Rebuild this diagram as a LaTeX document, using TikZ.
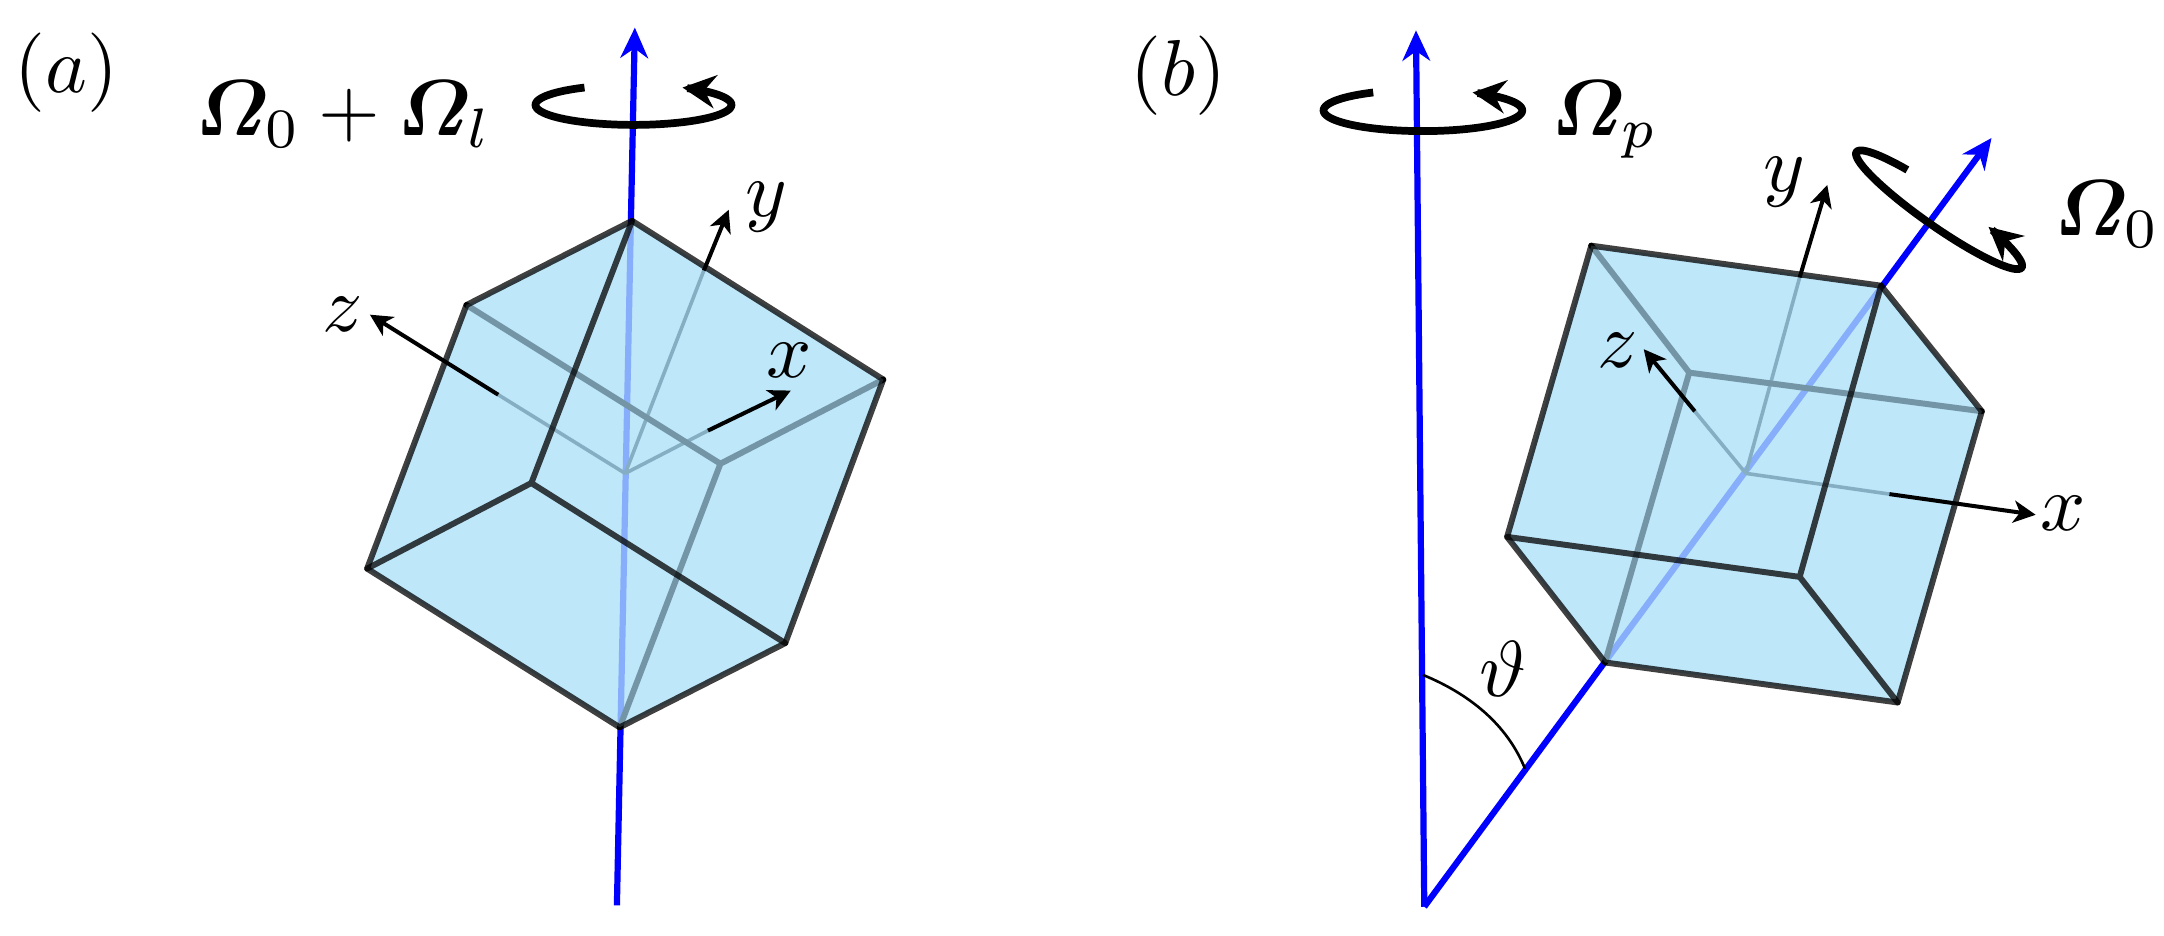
\documentclass[tikz,border=0pt]{standalone}
\usepackage{amsmath,bm}
\usetikzlibrary{arrows.meta}
\definecolor{cubefill}{HTML}{ACE0F9}
\tikzset{
  front/.style={draw=black,draw opacity=.75,line width=4.3pt,line join=round,line cap=round},
  back/.style={draw=black,line width=4.3pt,line join=round,line cap=round},
  back shade/.style={draw=black,draw opacity=.14,line width=4.3pt,line join=round,line cap=round},
  thin axis/.style={draw=black,line width=2.6pt},
  solid axis/.style={draw=black,line width=2.9pt,-{Stealth[length=16pt,width=16pt,inset=4.5pt]}},
  blue axis/.style={draw=blue,line width=4.5pt},
  blue tip/.style={-{Stealth[length=22pt,width=20pt,inset=7pt]}},
  spin/.style={draw=black,line width=5.6pt,line cap=butt,-{Stealth[length=24pt,width=24pt,inset=8pt]}},
  cubeface/.style={fill=cubefill,fill opacity=.78,draw=none},
  lab/.style={scale=5.75,inner sep=0pt,text=black}
}
\begin{document}
\begin{tikzpicture}[x=1pt,y=-1pt]
\useasboundingbox (0,0) rectangle (1568,677.5);
% ---- panel a
\coordinate (aT) at (458,160); \coordinate (aA) at (338,221); \coordinate (aR) at (640,275);
\coordinate (aB) at (522,336); \coordinate (aF) at (385,350); \coordinate (aL) at (266,412);
\coordinate (aD) at (449,527); \coordinate (aQ) at (569,466); \coordinate (aO) at (453,343);
\coordinate (aAxT) at (460,20); \coordinate (aAxB) at (447,656);
\coordinate (azS) at (361,286); \coordinate (azE) at (268,228);
\coordinate (ayS) at (510,196); \coordinate (ayE) at (528,152);
\coordinate (axS) at (513,312); \coordinate (axE) at (573,283);
\draw[blue axis,blue tip] (aAxB) -- (aAxT);
\draw[back] (aA) -- (aB) -- (aR) (aB) -- (aD);
\draw[thin axis] (aO) -- (azS) (aO) -- (ayS) (aO) -- (axS);
\fill[cubeface] (aT) -- (aR) -- (aQ) -- (aD) -- (aL) -- (aA) -- cycle;
\path[back shade] (aA) -- (aB) -- (aR) (aB) -- (aD);
\path[front] (aT) -- (aA) -- (aL) -- (aD) -- (aQ) -- (aR) -- cycle;
\path[front] (aT) -- (aF) (aL) -- (aF) -- (aQ);
\draw[solid axis] (azS) -- (azE);
\draw[solid axis] (ayS) -- (ayE);
\draw[solid axis] (axS) -- (axE);
\draw[spin] plot[domain=120:420,samples=70,smooth] ({459+71*cos(\x)},{76-14.5*sin(\x)});
\node[lab] (la) at (48,53) {$(a)$};
\node[lab] (lsa) at (249,83) {$\bm{\varOmega}_{0}+\bm{\varOmega}_{l}$};
\node[lab] (lya) at (555,150) {$y$};
\node[lab] (lza) at (248,228) {$z$};
\node[lab] (lxa) at (572,261) {$x$};
% ---- panel b
\coordinate (bA) at (1153,178); \coordinate (bT) at (1363,207); \coordinate (bR) at (1436,298);
\coordinate (bB) at (1224,270); \coordinate (bL) at (1092,389); \coordinate (bF) at (1304,418);
\coordinate (bD) at (1163,480); \coordinate (bQ) at (1375,509); \coordinate (bO) at (1265,343);
\coordinate (bV) at (1026,22); \coordinate (bP) at (1032,657); \coordinate (bE) at (1443,100);
\coordinate (bzS) at (1228,298); \coordinate (bzE) at (1191,253);
\coordinate (byS) at (1304,201); \coordinate (byE) at (1324,134);
\coordinate (bxS) at (1369,358); \coordinate (bxE) at (1475,373);
\coordinate (th1) at (1031,489); \coordinate (th2) at (1105,557);
\draw[blue axis,blue tip,line join=round] (bP) -- (bV);
\draw[blue axis,blue tip] (bP) -- (bE);
\draw[back] (bA) -- (bB) -- (bR) (bB) -- (bD);
\draw[thin axis] (bO) -- (bzS) (bO) -- (byS) (bO) -- (bxS);
\fill[cubeface] (bA) -- (bT) -- (bR) -- (bQ) -- (bD) -- (bL) -- cycle;
\path[back shade] (bA) -- (bB) -- (bR) (bB) -- (bD);
\path[front] (bA) -- (bT) -- (bR) -- (bQ) -- (bD) -- (bL) -- cycle;
\path[front] (bT) -- (bF) (bL) -- (bF) -- (bQ);
\draw[solid axis] (bzS) -- (bzE);
\draw[solid axis] (byS) -- (byE);
\draw[solid axis] (bxS) -- (bxE);
\draw[draw=black,line width=1.9pt] (th1) .. controls (1065,503) and (1092,525) .. (th2);
\draw[spin] plot[domain=120:420,samples=70,smooth] ({1031+72*cos(\x)},{80-15*sin(\x)});
\draw[spin] plot[domain=119:420,samples=70,smooth] ({1405+73*cos(\x)*cos(35)+12*sin(\x)*sin(35)},{152+73*cos(\x)*sin(35)-12*sin(\x)*cos(35)});
\node[lab] (lb) at (854,55) {$(b)$};
\node[lab] (lsp) at (1163,87) {$\bm{\varOmega}_{p}$};
\node[lab] (ls0) at (1527,155) {$\bm{\varOmega}_{0}$};
\node[lab] (lyb) at (1293,132) {$y$};
\node[lab] (lzb) at (1172,254) {$z$};
\node[lab] (lxb) at (1495,372) {$x$};
\node[lab] (lth) at (1089,485) {$\vartheta$};
\end{tikzpicture}
\end{document}
